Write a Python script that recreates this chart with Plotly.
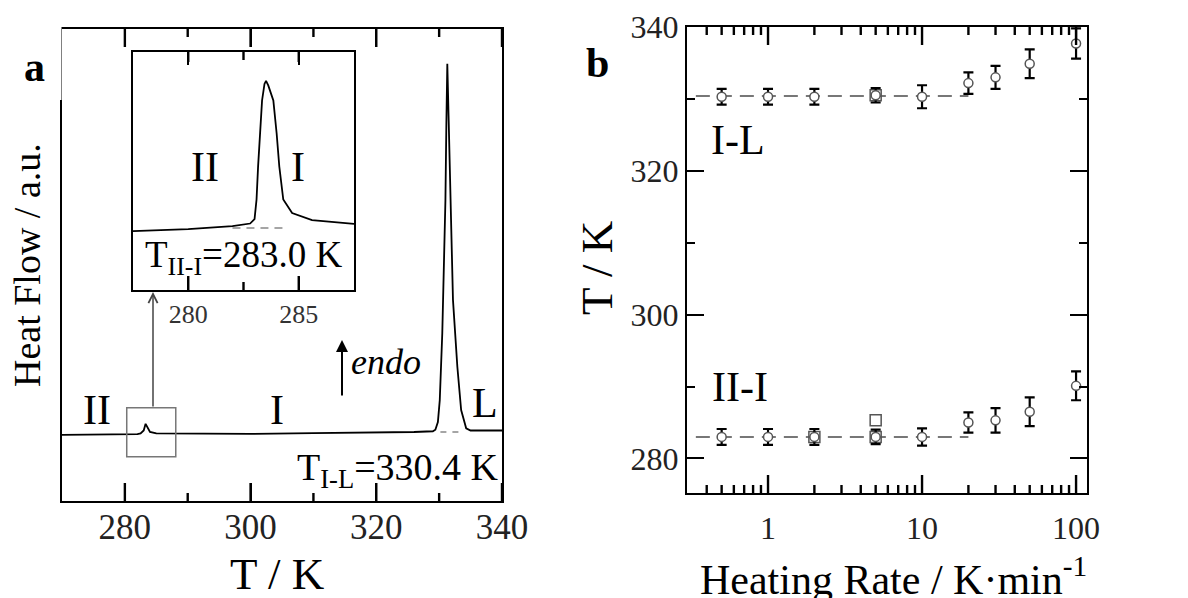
import plotly.graph_objects as go

# ---------------- data: panel a (DSC trace) ----------------
T_dsc = [270, 275, 280, 282, 282.5, 283.0, 283.3, 283.6, 284.0, 285, 290, 300, 310, 320, 326,
         329.0, 329.4, 329.8, 330.1, 330.5, 331.0, 331.15, 331.3, 331.5, 331.7, 331.9, 332.2,
         332.9, 333.5, 334.3, 335, 337, 340]
hf_dsc = [0.000, 0.000, 0.001, 0.002, 0.004, 0.012, 0.030, 0.020, 0.008, 0.004, 0.003, 0.003,
          0.005, 0.006, 0.008, 0.010, 0.014, 0.035, 0.094, 0.275, 0.633, 0.84, 1.0, 0.86, 0.72,
          0.60, 0.364, 0.183, 0.067, 0.018, 0.012, 0.012, 0.012]
T_IL_base = [330.2, 333.6]
hf_IL_base = [0.008, 0.008]

# inset trace
T_ins = [277.5, 280.0, 282.0, 282.8, 283.0, 283.09, 283.16, 283.24, 283.34, 283.45, 283.52,
         283.62, 283.85, 284.0, 284.12, 284.3, 284.7, 285.6, 287.5]
hf_ins = [0.0, 0.013, 0.033, 0.05, 0.08, 0.21, 0.43, 0.65, 0.87, 0.98, 1.0, 0.97, 0.87, 0.65,
          0.43, 0.21, 0.12, 0.073, 0.047]
T_ins_base = [282.0, 284.4]
hf_ins_base = [0.02, 0.02]

# ---------------- data: panel b ----------------
rates = [0.5, 1, 2, 5, 10, 20, 30, 50, 100]
T_IL = [330.3, 330.3, 330.3, 330.5, 330.3, 332.2, 333.0, 334.9, 337.7]
err_IL = [1.1, 1.1, 1.1, 1.0, 1.6, 1.5, 1.6, 2.0, 2.1]
T_III = [283.0, 283.0, 283.0, 283.0, 283.0, 285.0, 285.3, 286.5, 290.1]
err_III = [1.1, 1.1, 1.1, 1.0, 1.2, 1.4, 1.7, 2.0, 2.0]
rates_sq = [2, 5, 5, 5]
T_sq = [283.0, 283.0, 285.3, 330.5]
fit_x = [0.34, 20]
fit_IL = [330.4, 330.4]
fit_III = [283.0, 283.0]

# ---------------- ticks / ranges ----------------
xa_ticks = [280, 300, 320, 340]
xa_minor = [290, 310, 330]
xi_ticks = [280, 285]
xi_minor = [282.5]
xb_ticks = [1, 10, 100]
xb_minor = [0.4, 0.5, 0.6, 0.7, 0.8, 0.9, 2, 3, 4, 5, 6, 7, 8, 9, 20, 30, 40, 50, 60, 70, 80, 90]
yb_ticks = [280, 300, 320, 340]
ya_range = [-0.178, 1.094]
yi_range = [-0.393, 1.193]
yb_range = [275.2, 340]

W, H = 1188, 598
M = 2
def px(x):
    return (x - M) / (W - 2 * M)
def py(y):
    return 1 - (y - M) / (H - 2 * M)

FONT = "Liberation Serif"
fig = go.Figure()

# panel a main
fig.add_trace(go.Scatter(x=T_dsc, y=hf_dsc, mode="lines", line=dict(color="black", width=1.8),
                         xaxis="x", yaxis="y", showlegend=False))
fig.add_trace(go.Scatter(x=T_IL_base, y=hf_IL_base, mode="lines",
                         line=dict(color="#888", width=1.5, dash="6px,6px"),
                         xaxis="x", yaxis="y", showlegend=False))
# inset
fig.add_trace(go.Scatter(x=T_ins_base, y=hf_ins_base, mode="lines",
                         line=dict(color="#888", width=1.5, dash="8px,6px"),
                         xaxis="x3", yaxis="y3", showlegend=False))
fig.add_trace(go.Scatter(x=T_ins, y=hf_ins, mode="lines", line=dict(color="black", width=1.8),
                         xaxis="x3", yaxis="y3", showlegend=False))

# panel b
for fy in (fit_IL, fit_III):
    fig.add_trace(go.Scatter(x=fit_x, y=fy, mode="lines",
                             line=dict(color="#777", width=2, dash="14px,8px"),
                             xaxis="x2", yaxis="y2", showlegend=False))
fig.add_trace(go.Scatter(x=rates_sq, y=T_sq, mode="markers",
                         marker=dict(symbol="square-open", size=11, color="#555", line=dict(width=1.5)),
                         xaxis="x2", yaxis="y2", showlegend=False))
for ys, es in ((T_IL, err_IL), (T_III, err_III)):
    fig.add_trace(go.Scatter(x=rates, y=ys, mode="markers",
                             marker=dict(symbol="circle", size=9, color="white",
                                         line=dict(color="#555", width=1.5)),
                             error_y=dict(type="data", array=es, visible=True, color="black",
                                          thickness=2.2, width=5),
                             xaxis="x2", yaxis="y2", showlegend=False))

# x-axis tick marks (bottom and top, inward) drawn as line traces
def tick_trace(vals, xa, ya, yr, plot_h, len_bottom, len_top):
    span = yr[1] - yr[0]
    xs, ys = [], []
    for v in vals:
        xs += [v, v, None, v, v, None]
        ys += [yr[0], yr[0] + len_bottom / plot_h * span, None,
               yr[1] - len_top / plot_h * span, yr[1], None]
    return go.Scatter(x=xs, y=ys, mode="lines", line=dict(color="black", width=2.4),
                      xaxis=xa, yaxis=ya, showlegend=False, hoverinfo="skip")

fig.add_trace(tick_trace(xa_ticks, "x", "y", ya_range, 472, 18, 18))
fig.add_trace(tick_trace(xa_minor, "x", "y", ya_range, 472, 8, 8))
fig.add_trace(tick_trace(xi_ticks, "x3", "y3", yi_range, 238, 14, 10))
fig.add_trace(tick_trace(xi_minor, "x3", "y3", yi_range, 238, 8, 8))
fig.add_trace(tick_trace(xb_ticks, "x2", "y2", yb_range, 466, 18, 18))
fig.add_trace(tick_trace(xb_minor, "x2", "y2", yb_range, 466, 8, 8))

# x axes: native major ticks only (no minor block)
xcommon = dict(showline=True, linecolor="black", linewidth=2, showgrid=False, zeroline=False,
               ticks="inside", tickcolor="black", tickwidth=2, mirror="ticks", automargin=False)
ycommon = dict(showline=True, linecolor="black", linewidth=2, showgrid=False, zeroline=False,
               tickcolor="black", tickwidth=2, ticks="inside", mirror="ticks", automargin=False)

fig.update_layout(
    template="none",
    width=W, height=H, margin=dict(l=M, r=M, t=M, b=M),
    paper_bgcolor="white", plot_bgcolor="white",
    font=dict(family=FONT, color="black"),
    xaxis=dict(xcommon, domain=[px(62), px(502)], range=[270, 340], tickvals=xa_ticks,
               ticklen=18, tickfont=dict(size=35, family=FONT, color="#222"),
               ticklabelstandoff=-6, anchor="y"),
    yaxis=dict(showline=True, linecolor="black", linewidth=2, mirror=True, showgrid=False,
               zeroline=False, showticklabels=False, ticks="", automargin=False,
               domain=[py(501), py(29)], range=ya_range, anchor="x"),
    xaxis3=dict(xcommon, domain=[px(133), px(354)], range=[277.5, 287.5], tickvals=xi_ticks,
                ticklen=13, tickfont=dict(size=26, family=FONT, color="#333"), anchor="y3"),
    yaxis3=dict(showline=True, linecolor="black", linewidth=2, mirror=True, showgrid=False,
                zeroline=False, showticklabels=False, ticks="", automargin=False,
                domain=[py(290), py(52)], range=yi_range, anchor="x3"),
    xaxis2=dict(xcommon, type="log", domain=[px(687), px(1087)], range=[-0.526, 2.071],
                tickvals=xb_ticks, ticktext=["1", "10", "100"], ticklen=18,
                ticklabelstandoff=6,
                tickfont=dict(size=32, family=FONT, color="#222"), anchor="y2"),
    yaxis2=dict(ycommon, domain=[py(493), py(27)], range=yb_range, tickvals=yb_ticks,
                ticklen=17, tickfont=dict(size=32, family=FONT, color="#222"),
                minor=dict(ticks="inside", ticklen=8, dtick=10, tick0=270, tickcolor="black",
                           tickwidth=2, showgrid=False),
                anchor="x2"),
)

shapes = [
    # zoom box in panel a
    dict(type="rect", xref="x", yref="y", x0=280.3, x1=288.1, y0=-0.059, y1=0.073,
         line=dict(color="#777", width=1.5)),
    # white patch over top-left of panel a frame
    dict(type="rect", xref="paper", yref="paper", x0=px(0), x1=px(61.5), y0=py(100), y1=py(20),
         fillcolor="white", line=dict(width=0), layer="above"),
]
fig.update_layout(shapes=shapes)

def txt(x, y, s, size, **kw):
    d = dict(x=px(x), y=py(y), xref="paper", yref="paper", text=s, showarrow=False,
             font=dict(size=size, family=FONT, color=kw.pop("color", "black")),
             xanchor="center", yanchor="middle")
    d.update(kw)
    return d

ann = [
    txt(34, 67, "<b>a</b>", 42),
    txt(597, 63, "<b>b</b>", 42),
    txt(97, 410, "II", 42),
    txt(277, 410, "I", 42),
    txt(485, 403, "L", 42),
    txt(205, 167, "II", 42),
    txt(298, 167, "I", 42),
    txt(243, 257, "T<sub>II-I</sub>=283.0 K", 37),
    txt(398, 470, "T<sub>I-L</sub>=330.4 K", 38),
    txt(386, 362, "<i>endo</i>", 36),
    txt(738, 140, "I-L", 42),
    txt(740, 387, "II-I", 42),
    txt(277, 574, "T / K", 45),
    txt(27, 265, "Heat Flow / a.u.", 38, textangle=-90),
    txt(893, 576, "Heating Rate / K·min<sup>-1</sup>", 42),
    txt(597, 268, "T / K", 45, textangle=-90),
    # endo arrow
    dict(x=px(342), y=py(340), xref="paper", yref="paper", ax=0, ay=57, axref="pixel",
         ayref="pixel", showarrow=True, arrowhead=2, arrowsize=1.2, arrowwidth=2,
         arrowcolor="black", text=""),
    # zoom arrow
    dict(x=px(153), y=py(292), xref="paper", yref="paper", ax=0, ay=116, showarrow=True,
         arrowhead=5, arrowsize=1.2, arrowwidth=1.5, arrowcolor="#444", text=""),
]
fig.update_layout(annotations=ann)

fig.write_html("out.html")
